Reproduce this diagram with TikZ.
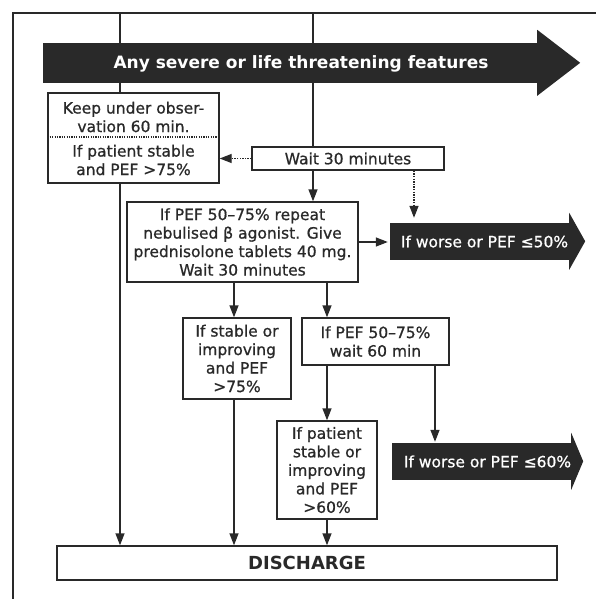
\documentclass[tikz,border=0pt]{standalone}
\usepackage{fontspec}
\setmainfont[FakeBold=0.8]{DejaVu Sans}[BoldFeatures={FakeBold=0}]
\usetikzlibrary{arrows.meta, positioning}
\definecolor{ink}{gray}{0.16}
\tikzset{
  txt/.style={align=center, text=ink, inner sep=0pt, font=\fontsize{15.5}{18.5}\selectfont},
  box/.style={txt, draw=ink, line width=1.4pt, fill=white},
  shaft/.style={fill=ink, inner sep=0pt},
  shafttext/.style={txt, text=white},
  flow/.style={draw=ink, line width=1.4pt, -{Triangle[length=12pt,width=9pt]}},
  flowdot/.style={flow, dash pattern=on 1.4pt off 1.2pt},
}
\begin{document}
\begin{tikzpicture}[x=1pt, y=-1pt]
        \useasboundingbox (0,0) rectangle (596,599);
        % frame and the two feeds from above
        \coordinate (corner) at (13,13);
        \coordinate (colA) at (120,13);
        \coordinate (colB) at (313,13);
        \coordinate (colC) at (234,0);
        \coordinate (colD) at (327,0);
        \coordinate (colE) at (435,0);
        \coordinate (colF) at (414,0);
        \draw[ink, line width=2pt] (596,13) -- (corner) -- (13,599);

        % boxes
        \node[box, minimum width=171, minimum height=90] (keep) at (133.5,138) {};
        \node[txt] (keeptop) at (133.5,117) {Keep under obser-\\vation 60 min.};
        \node[txt] (keepbot) at (133.5,160) {If patient stable\\and PEF >75\%};
        \coordinate (keepsplit) at (133.5,137);
        \draw[ink, line width=1.3pt, dash pattern=on 1.3pt off 1.1pt] (keep.west |- keepsplit) -- (keep.east |- keepsplit);
        \node[box, minimum width=192, minimum height=23] (wait) at (348,158.5) {Wait 30 minutes};
        \node[box, minimum width=231, minimum height=80] (pef) at (242.5,242)
            {If PEF 50--75\% repeat\\nebulised β agonist. Give\\prednisolone tablets 40 mg.\\Wait 30 minutes};
        \node[box, minimum width=108, minimum height=81] (stable) at (237,358.5) {If stable or\\improving\\and PEF\\>75\%};
        \node[box, minimum width=147, minimum height=47] (wait60) at (375.5,341.5) {If PEF 50--75\%\\wait 60 min};
        \node[box, minimum width=100, minimum height=98] (patient) at (327,470) {If patient\\stable or\\improving\\and PEF\\>60\%};
        \node[box, minimum width=500, minimum height=34, font=\fontsize{18}{20}\selectfont\bfseries] (discharge) at (307,563) {DISCHARGE};

        % feeds behind the big arrow
        \draw[ink, line width=1.4pt] (colA) -- (keep.north -| colA);
        \draw[ink, line width=1.4pt] (colB) -- (wait.north -| colB);

        % dark arrows
        \node[shaft, minimum width=494, minimum height=40] (severe) at (290,63) {};
        \fill[ink] (severe.north east) -- ++(0,-13) -- ++(43,33) -- ++(-43,33) -- (severe.south east) -- cycle;
        \node[shafttext, font=\fontsize{17}{20}\selectfont\bfseries] (severelabel) at (301,64) {Any severe or life threatening features};
        \node[shaft, minimum width=179, minimum height=37] (worse50) at (479.5,241.5) {};
        \fill[ink] (worse50.north east) -- ++(0,-10) -- ++(16,28.5) -- ++(-16,28.5) -- (worse50.south east) -- cycle;
        \node[shafttext, xshift=5pt] (worse50label) at (worse50.center) {If worse or PEF ≤50\%};
        \node[shaft, minimum width=179, minimum height=37] (worse60) at (481.5,461.5) {};
        \fill[ink] (worse60.north east) -- ++(0,-10) -- ++(12,28.5) -- ++(-12,28.5) -- (worse60.south east) -- cycle;
        \node[shafttext, xshift=6pt] (worse60label) at (worse60.center) {If worse or PEF ≤60\%};

        % connectors
        \draw[flow] (keep.south -| colA) -- (discharge.north -| colA);
        \draw[flowdot] (wait.west) -- (keep.east |- wait.west);
        \draw[flow] (wait.south -| colB) -- (pef.north -| colB);
        \draw[flowdot, shorten >=5pt] (wait.south -| colF) -- (worse50.north -| colF);
        \draw[flow, shorten >=2pt] (pef.east) -- (pef.east -| worse50.west);
        \draw[flow] (pef.south -| colC) -- (stable.north -| colC);
        \draw[flow] (pef.south -| colD) -- (wait60.north -| colD);
        \draw[flow] (stable.south -| colC) -- (discharge.north -| colC);
        \draw[flow] (wait60.south -| colD) -- (patient.north -| colD);
        \draw[flow, shorten >=1pt] (wait60.south -| colE) -- (worse60.north -| colE);
        \draw[flow] (patient.south -| colD) -- (discharge.north -| colD);
\end{tikzpicture}
\end{document}
